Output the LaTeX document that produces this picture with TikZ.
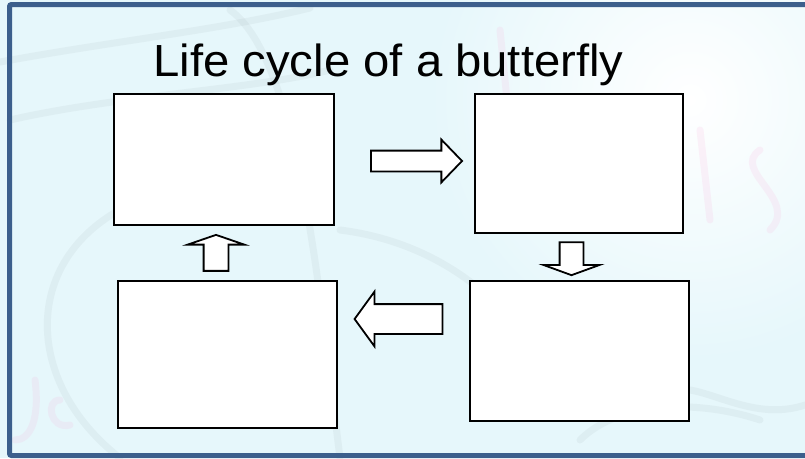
\documentclass[tikz,border=0pt]{standalone}
\usepackage{fontspec}
\setmainfont{Liberation Sans}
\usetikzlibrary{shapes.arrows, positioning}
\definecolor{frameBlue}{RGB}{60,95,140}
\definecolor{skyBg}{RGB}{230,247,251}
\definecolor{sketchGrey}{RGB}{140,150,155}
\definecolor{sketchPink}{RGB}{250,170,215}
\tikzstyle{stageBox} = [shape=rectangle, draw=black, line width=2pt,
	fill=white]
\tikzstyle{blockArrow} = [shape=single arrow, draw=black, line width=1.8pt,
	fill=white, single arrow head indent=0pt, inner xsep=0pt]
\tikzstyle{sketch} = [line width=7pt, line cap=round, opacity=0.09]

\begin{document}
\begin{tikzpicture}[x=1pt, y=-1pt]
  \useasboundingbox (0,0) rectangle (805,458);
  \clip (0,0) rectangle (805,458);
  % background
  \fill[skyBg] (0,0) rectangle (805,458);
  \shade[inner color=white, outer color=skyBg] (690,100) circle (260);
  \draw[sketch, sketchGrey] (0,62) .. controls (120,40) and (220,30) .. (310,8);
  \draw[sketch, sketchGrey] (10,120) .. controls (120,95) and (250,90) .. (330,70);
  \draw[sketch, sketchGrey] (120,458) .. controls (20,380) and (20,250) .. (140,200);
  \draw[sketch, sketchGrey] (230,10) .. controls (300,60) and (320,300) .. (340,458);
  \draw[sketch, sketchGrey] (340,230) .. controls (420,240) and (480,280) .. (520,330);
  \draw[sketch, sketchGrey] (690,390) .. controls (720,395) and (760,420) .. (805,405);
  \draw[sketch, sketchGrey] (580,440) .. controls (620,400) and (700,400) .. (760,420);
  \draw[sketch, sketchPink, opacity=0.15] (500,30) -- (520,230);
  \draw[sketch, sketchPink, opacity=0.15] (620,110) .. controls (640,150) and (660,180) .. (650,220);
  \draw[sketch, sketchPink, opacity=0.15] (700,130) -- (710,220);
  \draw[sketch, sketchPink, opacity=0.15] (760,150) .. controls (730,170) and (800,200) .. (770,230);
  \draw[sketch, sketchPink, opacity=0.15] (35,380) .. controls (40,420) and (30,440) .. (15,440);
  \draw[sketch, sketchPink, opacity=0.15] (60,400) .. controls (45,400) and (50,430) .. (70,425);
  % frame
  \draw[frameBlue, line width=5pt, rounded corners=2pt]
    (830,4.5) -- (9.5,4.5) -- (9.5,455.5) -- (830,455.5);

  \node (TITLE) [anchor=base, xscale=1.05] at (388.5,76) {\fontsize{45}{52}\selectfont Life cycle of a butterfly};

  \node (EGG) [stageBox, minimum width=220pt, minimum height=131pt] at (224,159.5) {};
  \node (LARVA) [stageBox, minimum width=208pt, minimum height=139pt] at (579,163.5) {};
  \node (PUPA) [stageBox, minimum width=219pt, minimum height=140pt] at (579.5,351) {};
  \node (ADULT) [stageBox, minimum width=219pt, minimum height=147pt] at (227.5,354.5) {};

  \node (toLarva) [blockArrow, inner ysep=9.5pt, minimum height=91pt,
    single arrow head extend=11pt, single arrow tip angle=92] at (411.5,161) {};
  \node (toPupa) [blockArrow, inner ysep=11pt, minimum height=33pt,
    single arrow head extend=16pt, single arrow tip angle=140, rotate=-90] at (571.5,256.5) {};
  \node (toAdult) [blockArrow, inner ysep=14pt, minimum height=88pt,
    single arrow head extend=12.5pt, single arrow tip angle=108, rotate=180] at (404,319) {};
  \node (toEgg) [blockArrow, inner ysep=11.5pt, minimum height=36pt,
    single arrow head extend=16pt, single arrow tip angle=142, rotate=90] at (216,255) {};

\end{tikzpicture}
\end{document}
